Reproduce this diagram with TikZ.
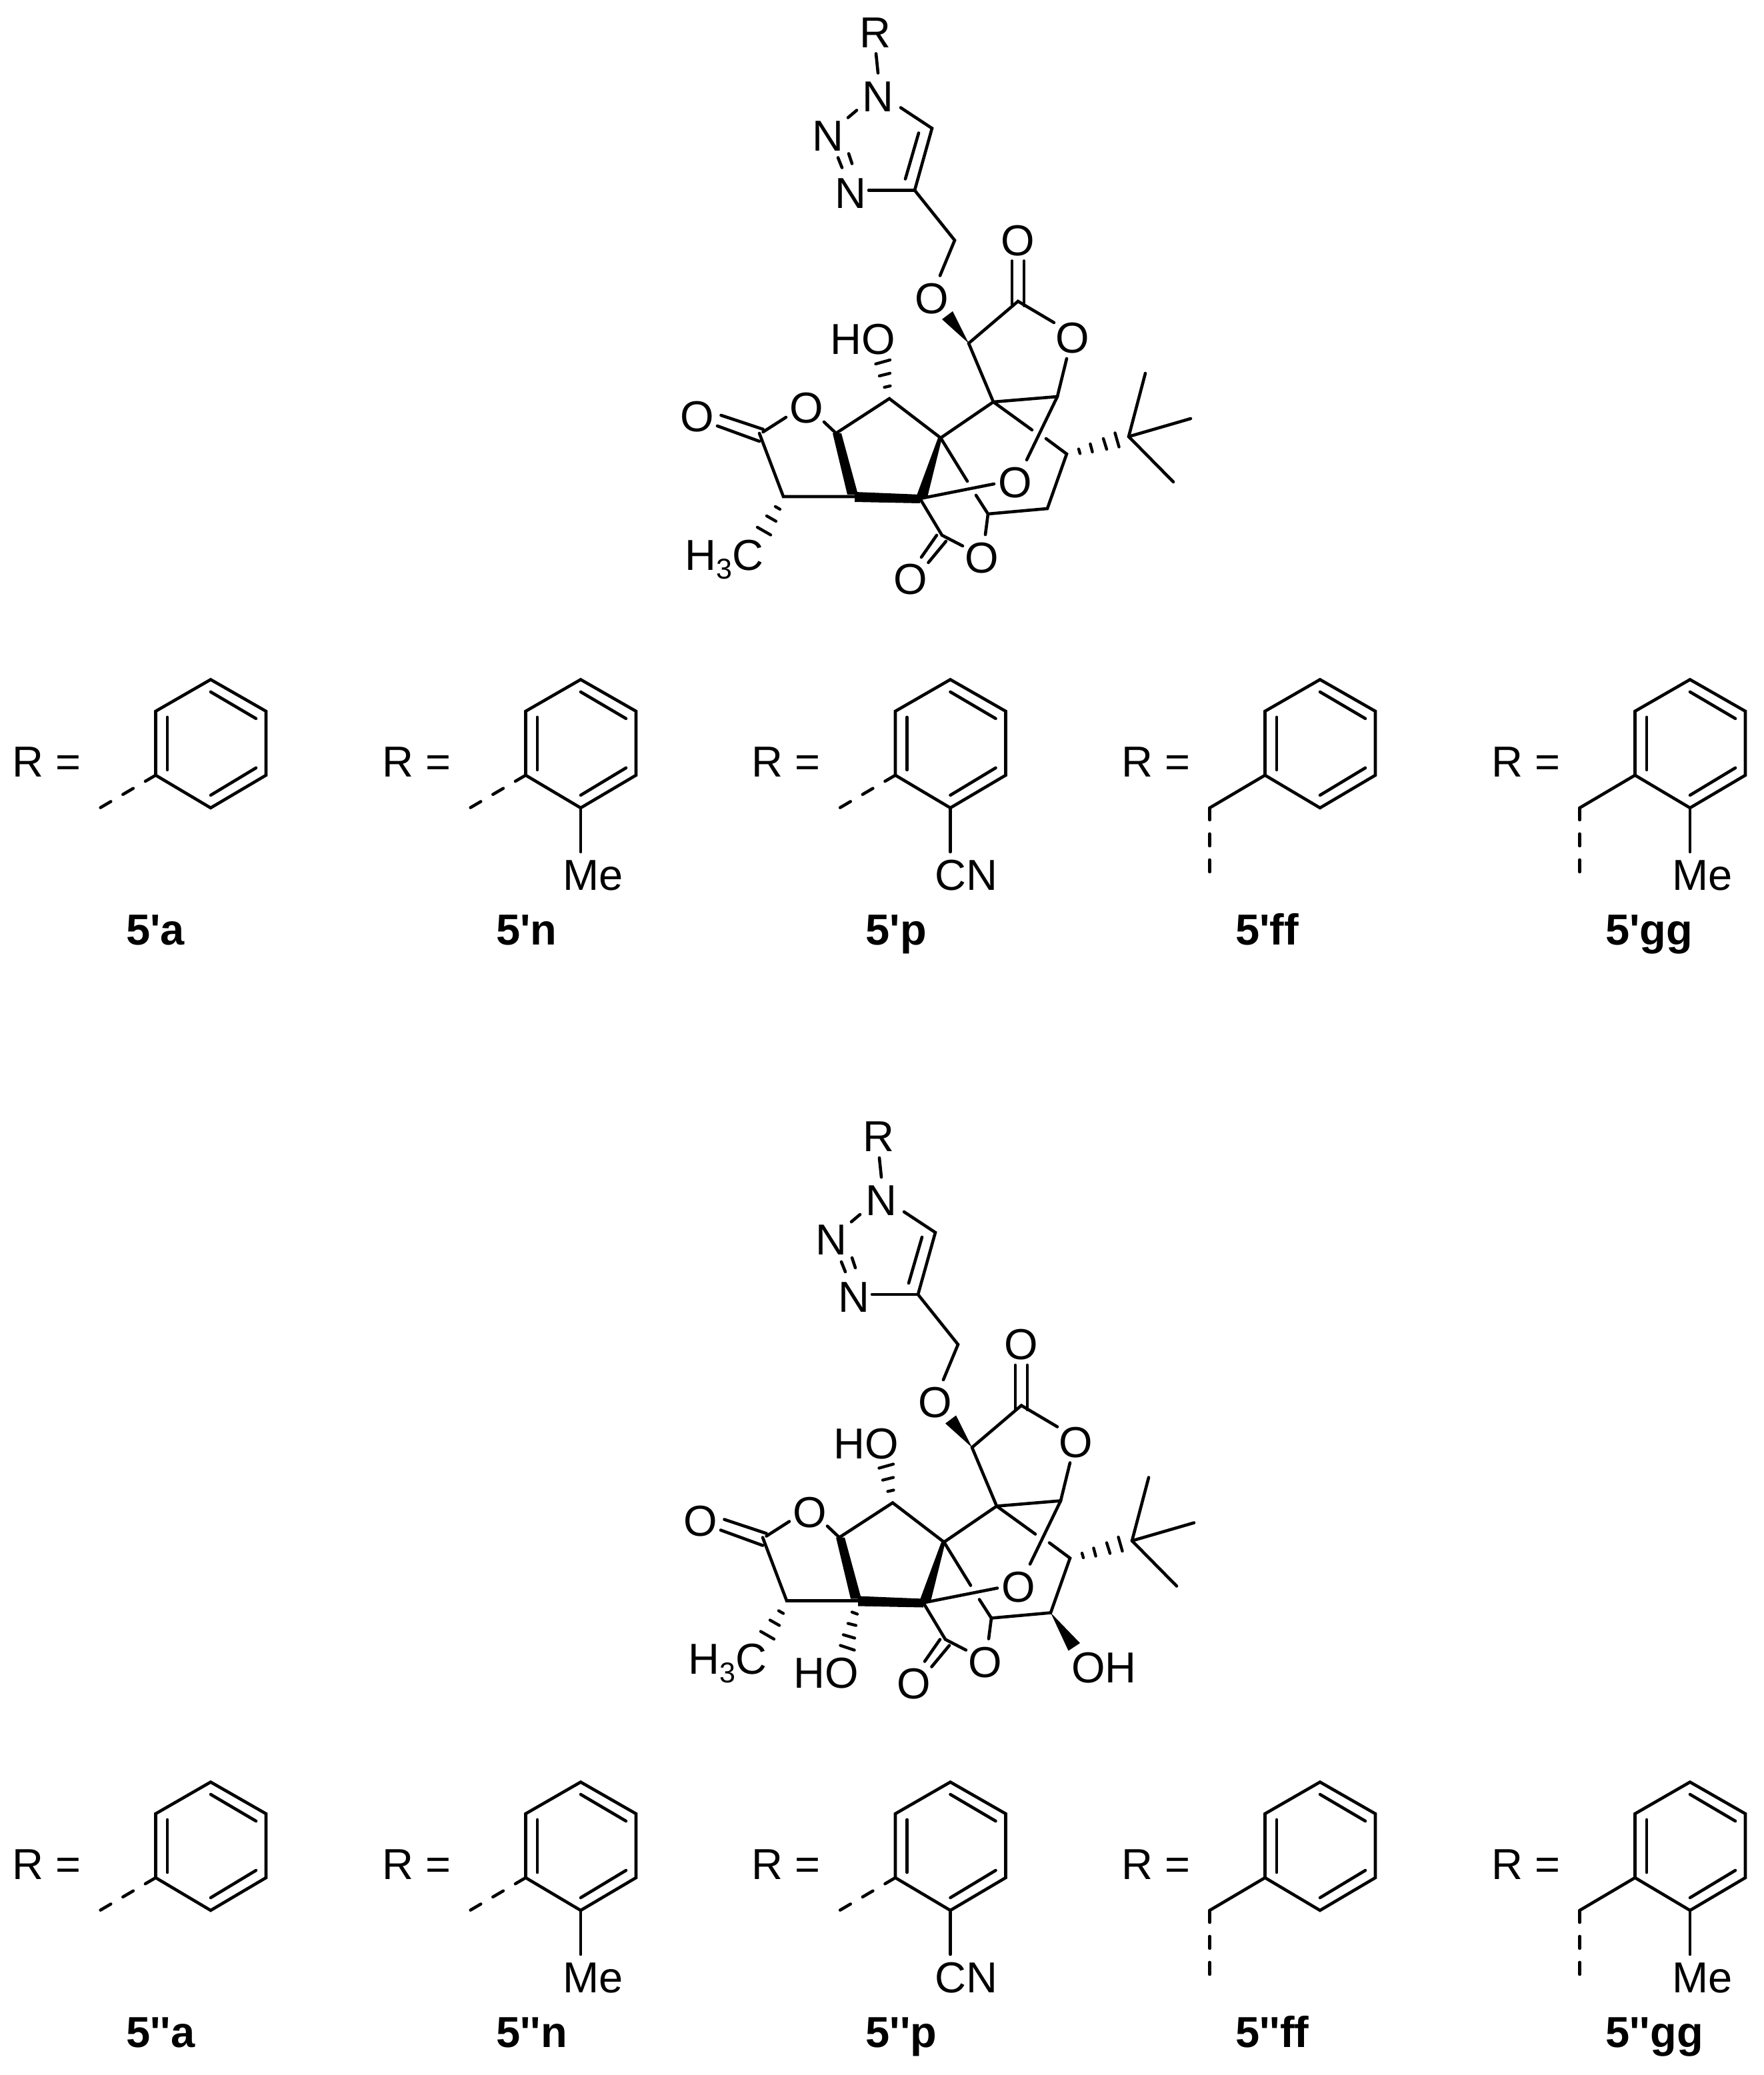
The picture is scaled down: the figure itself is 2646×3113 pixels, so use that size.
\documentclass[tikz,border=0pt]{standalone}
\usepackage{fontspec}
\newfontfamily\arialf{Liberation Sans}
\tikzset{
  x=1pt,y=-1pt,
  bond/.style={draw=black,line width=4.6pt,line cap=round,line join=miter},
  bar/.style={draw=black,line width=4.4pt,line cap=round},
  wedge/.style={fill=black,draw=none},
  dashbond/.style={bond,dash pattern=on 18pt off 21pt},
  lab/.style={font=\arialf\fontsize{65}{70}\selectfont,inner sep=0pt,anchor=base,yshift=-23.5pt,text=black},
  labw/.style={font=\arialf\fontsize{65}{70}\selectfont,inner sep=0pt,anchor=base west,text=black},
  tag/.style={font=\arialf\bfseries\fontsize{65}{70}\selectfont,inner sep=0pt,anchor=base west,text=black},
}
\newcommand\ginkgo{%
  \foreach \n/\x/\y in {C5/1398/192.5,C4/1372/285.5,CH2/1432/360.5,
    Rb1/1314/80.5,Rb2/1317/109.5,Na/1285/165.5,Nb/1272/176.5,Nc/1257/236.5,Nd/1263/251.5,Ne/1273/230.5,Nf/1278/245.5,
    Ng/1303/285.5,Nh/1351/161.5,Ia/1378/199.5,Ib/1358/268.5,Oeb/1410/413.5,
    Ca/1453/515,Cc/1527/452,Da/1518/391.5,Db/1518/458.5,Dc/1536/391.5,Dz/1536/458.5,Olb/1581/484,
    A/1490/603,B/1586/595,Ola/1600/538,Brb/1540/690,Ae/1548/645,Ds/1569/658,D/1600/681,Dd/1571/763,E/1482/771,Eu/1464/743,Ed/1478/802,
    Pt/1334/598,Rt/1411/657,F/1380/748,G/1282/745,H/1254/650,Rtb/1451/722,Fb/1491/726,
    Cl/1413/803,Clb/1444/819,Cla/1405/803,Clc/1382/836,Cld/1419/812,Cle/1392.5/844,
    Mt/1175/745,LC/1139/650,La/1081.5/623,Lb/1144.6/644,Lc/1076/639,Ld/1139/662,Le/1144.6/648,Lf/1179/626,Lg/1236/633,
    Q/1693/655,Q1/1718/560,Q2/1786/628,Q3/1760/723}
    {\coordinate (\n) at (\x,\y);}
  \node[lab] (Rl) at (1313,47.5) {R};
  \node[lab] (N1) at (1317,143.5) {N};
  \node[lab] (N2) at (1242,202.5) {N};
  \node[lab] (N3) at (1276,288.5) {N};
  \node[lab] (Oe) at (1398,446.5) {O};
  \node[lab] (Ot) at (1527,359.5) {O};
  \node[lab] (Ol) at (1609,506) {O};
  \node[lab] (Ox) at (1046,624) {O};
  \node[lab] (Or) at (1210,611) {O};
  \node[lab] (Obr) at (1523,723) {O};
  \node[lab] (Ow) at (1473,836) {O};
  \node[lab] (Ok) at (1366,868) {O};
  \node[labw] (HOt) at (1245,531.7) {HO};
  \node[labw] (H3C) at (1027,855) {H\raisebox{-13pt}{\fontsize{43}{45}\selectfont 3}C};
  \draw[bond] (Rb1)--(Rb2);
  \draw[bond] (Na)--(Nb);
  \draw[bond] (Nc)--(Nd);
  \draw[bond] (Ne)--(Nf);
  \draw[bond] (Ng)--(C4);
  \draw[bond] (Nh)--(C5)--(C4)--(CH2)--(Oeb);
  \draw[bond] (Ia)--(Ib);
  \draw[bond] (Da)--(Db);
  \draw[bond] (Dc)--(Dz);
  \draw[bond] (Ca)--(Cc)--(Olb);
  \fill[wedge] (1429,467)--(1413,479)--(Ca)--cycle;
  \draw[bond] (Ca)--(A)--(B)--(Ola);
  \draw[bond] (B)--(Brb);
  \draw[bond] (A)--(Ae);
  \draw[bond] (Ds)--(D)--(Dd)--(E)--(Eu);
  \draw[bond] (E)--(Ed);
  \draw[bond] (H)--(Pt)--(Rt)--(A);
  \draw[bond] (Rt)--(Rtb);
  \draw[bond] (F)--(Fb);
  \draw[bond] (F)--(Cl)--(Clb);
  \draw[bond] (Cla)--(Clc);
  \draw[bond] (Cld)--(Cle);
  \draw[bond] (G)--(Mt)--(LC);
  \draw[bond] (La)--(Lb);
  \draw[bond] (Lc)--(Ld);
  \draw[bond] (Le)--(Lf);
  \draw[bond] (Lg)--(H);
  \fill[wedge] (1249,650)--(1262,650)--(1287,742)--(1271,742)--cycle;
  \fill[wedge] (1282,738)--(1380,742)--(1380,755)--(1282,753)--cycle;
  \fill[wedge] (1407,657)--(1413,657)--(1391,746)--(1374,746)--cycle;
  \draw[bar] (1326.6,581)--(1335.4,579);
  \draw[bar] (1319,564)--(1335,560);
  \draw[bar] (1313.5,546)--(1335,540);
  \draw[bar] (1163,760)--(1170,764);
  \draw[bar] (1150,774)--(1164,782);
  \draw[bar] (1136,791)--(1156,802.5);
  \draw[bar] (1618,673.6)--(1620,680.4);
  \draw[bar] (1635.4,666)--(1638.6,678);
  \draw[bar] (1655,658)--(1660,674);
  \draw[bar] (1672.5,649.5)--(1678.5,670.5);
  \draw[bond] (Q)--(Q1);
  \draw[bond] (Q)--(Q2);
  \draw[bond] (Q)--(Q3);
}
\newcommand\panelbase[1]{%
  \foreach \n/\x/\y in {tp/316/1019.5,ur/399/1067,lr/399/1163,bt/316/1212,ll/233.5/1163,ul/233.5/1067,
    a1/251/1076,a2/251/1155,b1/316/1038,b2/384/1078,c1/316/1193,c2/384/1152,
    dq/150/1212,ch/150.5/1212,che/150.5/1309,sb/316/1278}
    {\coordinate (\n) at (\x,\y);}
  \draw[bond] (tp)--(ur)--(lr)--(bt)--(ll)--(ul)--cycle;
  \draw[bond] (a1)--(a2);
  \draw[bond] (b1)--(b2);
  \draw[bond] (c1)--(c2);
  \node[labw] (req) at (18,1165) {R =};
  \node[tag] (cap) at (189,1417) {#1};
}
\newcommand\arylgrp{\draw[dashbond] (ll)--(dq);}
\newcommand\benzgrp{\draw[bond] (ll)--(ch); \draw[bond,dash pattern=on 18pt off 21pt] (ch)--(che);}
\newcommand\orthoMe{\draw[bond] (bt)--(sb); \node[labw] (sl) at (289,1335) {Me};}
\newcommand\orthoCN{\draw[bond] (bt)--(sb); \node[labw] (sl) at (293,1335) {CN};}
\begin{document}
\begin{tikzpicture}
\path[use as bounding box,fill=white] (0,0) rectangle (2646,3113);
\begin{scope}[name prefix=top-]
  \ginkgo
\end{scope}
\begin{scope}[name prefix=low-,shift={(5,1656.5)}]
  \ginkgo
  \node[labw] (HOb) at (1185,876) {HO};
  \node[labw] (OHb) at (1602,867.5) {OH};
  \draw[bar] (1273,762)--(1281,765);
  \draw[bar] (1267,779)--(1279,782);
  \draw[bar] (1260,796)--(1277,801);
  \draw[bar] (1255.5,812)--(1276.5,819);
  \fill[wedge] (Dd)--(1615,808.5)--(1597.6,820)--cycle;
\end{scope}
\begin{scope}[name prefix=p1-]
  \panelbase{5'a}\arylgrp
\end{scope}
\begin{scope}[name prefix=p2-,shift={(555,0)}]
  \panelbase{5'n}\arylgrp\orthoMe
\end{scope}
\begin{scope}[name prefix=p3-,shift={(1109.5,0)}]
  \panelbase{5'p}\arylgrp\orthoCN
\end{scope}
\begin{scope}[name prefix=p4-,shift={(1664,0)}]
  \panelbase{5'ff}\benzgrp
\end{scope}
\begin{scope}[name prefix=p5-,shift={(2219,0)}]
  \panelbase{5'gg}\benzgrp\orthoMe
\end{scope}
\begin{scope}[name prefix=q1-,shift={(0,1654)}]
  \panelbase{5''a}\arylgrp
\end{scope}
\begin{scope}[name prefix=q2-,shift={(555,1654)}]
  \panelbase{5''n}\arylgrp\orthoMe
\end{scope}
\begin{scope}[name prefix=q3-,shift={(1109.5,1654)}]
  \panelbase{5''p}\arylgrp\orthoCN
\end{scope}
\begin{scope}[name prefix=q4-,shift={(1664,1654)}]
  \panelbase{5''ff}\benzgrp
\end{scope}
\begin{scope}[name prefix=q5-,shift={(2219,1654)}]
  \panelbase{5''gg}\benzgrp\orthoMe
\end{scope}
\end{tikzpicture}
\end{document}
